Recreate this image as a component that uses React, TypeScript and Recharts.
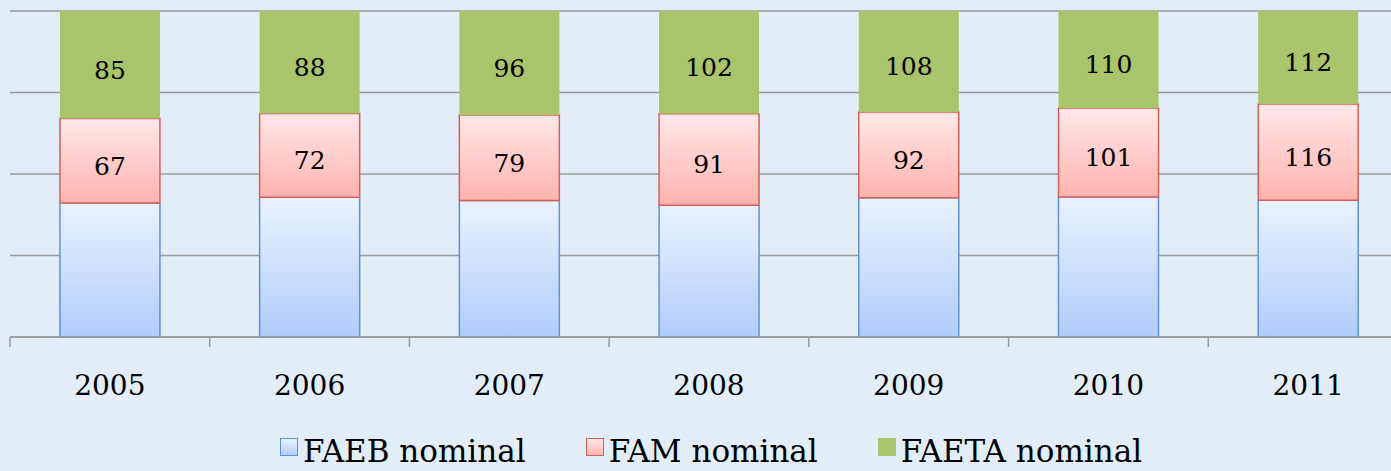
import React from 'react'
import { BarChart, Bar, XAxis, YAxis, CartesianGrid, Legend, LabelList } from 'recharts'

// values (FAEB has no labels)
const years = ['2005', '2006', '2007', '2008', '2009', '2010', '2011']
const faeb = [106, 120, 126, 131, 149, 159, 165]
const fam = [67, 72, 79, 91, 92, 101, 116]
const faeta = [85, 88, 96, 102, 108, 110, 112]
const seriesNames = ['FAEB nominal', 'FAM nominal', 'FAETA nominal']

const data = years.map((year, i) => ({
  year,
  FAEB: faeb[i],
  FAM: fam[i],
  FAETA: faeta[i],
}))

const CHART_W = 1420
const CHART_H = 480
const MARGIN = { top: 11, right: 12, left: 10, bottom: 83 }
const PLOT_W = CHART_W - MARGIN.left - MARGIN.right
const BAND = PLOT_W / years.length
const FONT = '"DejaVu Serif", serif'
const GRID = '#9a9a9a'

const YearTick = (props: any) => {
  const { x, y, payload } = props
  const left = x - BAND / 2
  return (
    <g>
      <line x1={left} y1={y} x2={left} y2={y + 10} stroke={GRID} strokeWidth={1.5} />
      <text x={x} y={y + 58} textAnchor="middle" fontFamily={FONT} fontSize={28} fill="#000">
        {payload.value}
      </text>
    </g>
  )
}

const SegmentLabel = (props: any) => {
  const { x, y, width, height, value } = props
  return (
    <text
      x={x + width / 2}
      y={y + height / 2 + 14}
      textAnchor="middle"
      fontFamily={FONT}
      fontSize={25}
      fill="#000"
    >
      {value}
    </text>
  )
}

const swatches = [
  { background: 'linear-gradient(#eaf2fe, #b3cffb)', border: '1.5px solid #5f93d0' },
  { background: 'linear-gradient(#ffe8e8, #ffb5b0)', border: '1.5px solid #d4605a' },
  { background: '#a9c46a', border: '1.5px solid #a9c46a' },
]

const renderLegend = () => (
  <div
    style={{
      display: 'flex',
      justifyContent: 'center',
      paddingLeft: 2,
      fontFamily: FONT,
      fontSize: 31,
      lineHeight: '31px',
      color: '#000',
    }}
  >
    {seriesNames.map((name, i) => (
      <div key={name} style={{ display: 'flex', alignItems: 'flex-start', marginRight: i < 2 ? 60 : 0 }}>
        <span
          style={{
            display: 'inline-block',
            width: 16,
            height: 16,
            marginTop: 2,
            marginRight: 5,
            boxSizing: 'content-box',
            ...swatches[i],
          }}
        />
        <span>{name}</span>
      </div>
    ))}
  </div>
)

export default function App() {
  return (
    <div
      style={{
        position: 'fixed',
        left: 0,
        top: 0,
        width: 1391,
        height: 471,
        overflow: 'hidden',
        background: '#e2edf8',
      }}
    >
      <BarChart
        width={CHART_W}
        height={CHART_H}
        data={data}
        margin={MARGIN}
        stackOffset="expand"
        barCategoryGap="25%"
      >
        <defs>
          <linearGradient id="gBlue" x1="0" y1="0" x2="0" y2="1">
            <stop offset="0%" stopColor="#eaf2fe" />
            <stop offset="100%" stopColor="#b0cdfb" />
          </linearGradient>
          <linearGradient id="gRed" x1="0" y1="0" x2="0" y2="1">
            <stop offset="0%" stopColor="#ffe8e8" />
            <stop offset="100%" stopColor="#ffb3ae" />
          </linearGradient>
        </defs>
        <CartesianGrid vertical={false} stroke={GRID} strokeWidth={1.5} />
        <YAxis hide domain={[0, 1]} ticks={[0, 0.25, 0.5, 0.75, 1]} />
        <XAxis
          dataKey="year"
          axisLine={{ stroke: GRID, strokeWidth: 1.5 }}
          tickLine={false}
          tickSize={0}
          tickMargin={0}
          height={60}
          interval={0}
          tick={<YearTick />}
        />
        <Legend
          layout="horizontal"
          verticalAlign="middle"
          align="center"
          wrapperStyle={{ top: 436, left: 0, width: CHART_W }}
          content={renderLegend}
        />
        <Bar dataKey="FAEB" name={seriesNames[0]} stackId="a" fill="url(#gBlue)" stroke="#5f93d0" strokeWidth={1.5} isAnimationActive={false} />
        <Bar dataKey="FAM" name={seriesNames[1]} stackId="a" fill="url(#gRed)" stroke="#d4605a" strokeWidth={1.5} isAnimationActive={false}>
          <LabelList dataKey="FAM" content={<SegmentLabel />} />
        </Bar>
        <Bar dataKey="FAETA" name={seriesNames[2]} stackId="a" fill="#a9c46a" isAnimationActive={false}>
          <LabelList dataKey="FAETA" content={<SegmentLabel />} />
        </Bar>
      </BarChart>
    </div>
  )
}
